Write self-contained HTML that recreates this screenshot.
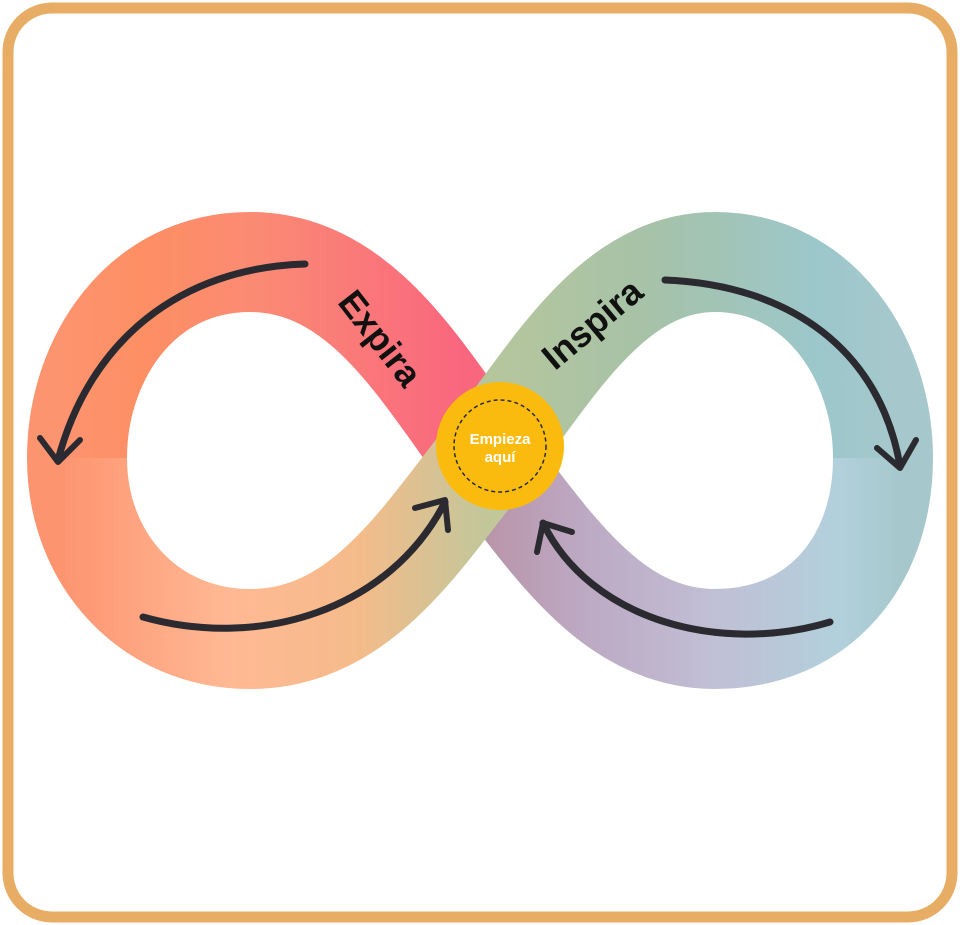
<!DOCTYPE html>
<html><head><meta charset="utf-8"><style>
html,body{margin:0;padding:0;background:#fff;}
svg{display:block;}
</style></head><body>
<svg width="960" height="925" viewBox="0 0 960 925" xmlns="http://www.w3.org/2000/svg">
<defs>
<linearGradient id="g1" gradientUnits="userSpaceOnUse" x1="460" y1="458" x2="60" y2="458">
<stop offset="0" stop-color="#f9677e"/><stop offset="0.5" stop-color="#fb8a74"/><stop offset="0.8" stop-color="#fd8f63"/><stop offset="1" stop-color="#fd9470"/></linearGradient>
<linearGradient id="g2" gradientUnits="userSpaceOnUse" x1="60" y1="458" x2="485" y2="458">
<stop offset="0" stop-color="#fd9470"/><stop offset="0.4" stop-color="#ffb994"/><stop offset="0.7" stop-color="#f5bb8a"/><stop offset="1" stop-color="#c2c79a"/></linearGradient>
<linearGradient id="g3" gradientUnits="userSpaceOnUse" x1="485" y1="458" x2="900" y2="458">
<stop offset="0" stop-color="#b6c69c"/><stop offset="0.4" stop-color="#a6c2a8"/><stop offset="0.8" stop-color="#9cc7cb"/><stop offset="1" stop-color="#a6c8cc"/></linearGradient>
<linearGradient id="g4" gradientUnits="userSpaceOnUse" x1="900" y1="458" x2="485" y2="458">
<stop offset="0" stop-color="#a6c8cc"/><stop offset="0.15" stop-color="#b2d0dc"/><stop offset="0.45" stop-color="#c1bfd5"/><stop offset="0.8" stop-color="#bca6c0"/><stop offset="1" stop-color="#b994a8"/></linearGradient>
</defs>
<rect x="8" y="8" width="944" height="909" rx="44" fill="#fff" stroke="#e8ad64" stroke-width="11"/>
<g fill="none" stroke-width="100">
<path d="M485,458 C420,370 360,262 250,262 C140,262 77,360 77,458" stroke="url(#g1)"/>
<path d="M883,458 C883,560 820,639 715,639 C610,639 550,540 485,458" stroke="url(#g4)"/>
<path d="M77,458 C77,560 150,639 250,639 C360,639 420,540 485,458" stroke="url(#g2)"/>
<path d="M485,458 C550,376 610,262 715,262 C820,262 883,360 883,458" stroke="url(#g3)"/>
</g>
<g fill="none" stroke="#2a2a30" stroke-linecap="round" stroke-linejoin="round">
<path d="M305,264 C180,268 90,340 58,460" stroke-width="7"/>
<path d="M40,438 L58,462 L80,440" stroke-width="6"/>
<path d="M143,617 C260,650 390,610 445,502" stroke-width="7"/>
<path d="M415,508 L445,500 L448,530" stroke-width="6"/>
<path d="M665,280 C790,285 880,350 900,466" stroke-width="7"/>
<path d="M877,448 L900,468 L916,440" stroke-width="6"/>
<path d="M830,622 C720,655 590,620 543,523" stroke-width="7"/>
<path d="M537,552 L543,523 L572,532" stroke-width="6"/>
</g>
<circle cx="500" cy="446" r="64" fill="#fbbb0e"/>
<circle cx="500" cy="446" r="46" fill="none" stroke="#2a2a30" stroke-width="1.5" stroke-dasharray="4 3"/>
<text x="500" y="444" text-anchor="middle" font-family="Liberation Sans, sans-serif" font-weight="bold" font-size="15" fill="#fff">Empieza</text>
<text x="500" y="462" text-anchor="middle" font-family="Liberation Sans, sans-serif" font-weight="bold" font-size="15" fill="#fff">aquí</text>
<text transform="translate(378,340) rotate(52)" text-anchor="middle" dominant-baseline="middle" font-family="Liberation Sans, sans-serif" font-weight="bold" font-size="36" fill="#111">Expira</text>
<text transform="translate(594,326) rotate(-40)" text-anchor="middle" dominant-baseline="middle" font-family="Liberation Sans, sans-serif" font-weight="bold" font-size="36" fill="#111">Inspira</text>
</svg>
</body></html>
